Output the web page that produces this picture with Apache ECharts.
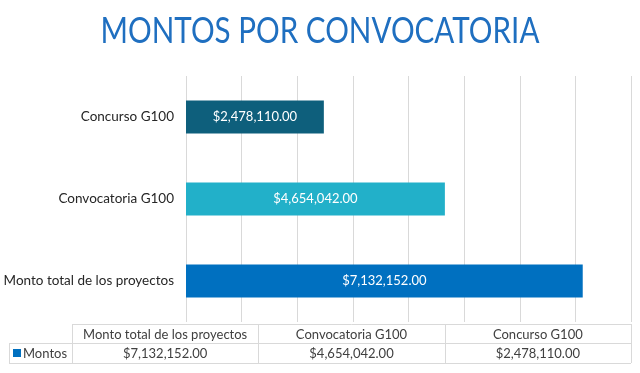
<!DOCTYPE html>
<html>
<head>
<meta charset="utf-8">
<script src="https://cdn.jsdelivr.net/npm/echarts@6/dist/echarts.min.js"></script>
<style>html,body{margin:0;padding:0;background:#fff}#c{width:640px;height:373px}</style>
</head>
<body>
<div id="c"></div>
<script>
var categories = ['Monto total de los proyectos', 'Convocatoria G100', 'Concurso G100'];
var montos = [7132152.00, 4654042.00, 2478110.00];
var barColors = ['#0070C0', '#22B0C9', '#0E5F7C'];
var seriesName = 'Montos';
var titleText = 'MONTOS POR CONVOCATORIA';
var axisMax = 8000000;
var axisInterval = 1000000;

function fmt(v) {
  return '$' + v.toLocaleString('en-US', {minimumFractionDigits: 2, maximumFractionDigits: 2});
}

var FONT = 'Lato';
var chart = echarts.init(document.getElementById('c'), null, {renderer: 'canvas'});

var g = [];
// title (condensed to match the original's narrow face)
g.push({type: 'text', x: 320, y: 31, scaleX: 0.8, originX: 0, originY: 0,
  style: {text: titleText, fill: '#1F6FC0', font: '37px ' + FONT, align: 'center', verticalAlign: 'middle'}});

// data table graphics
var tLeft = 72, tRight = 631, tTop = 324, tMid = 343, tBot = 363, rowLeft = 9;
var colW = (tRight - tLeft) / categories.length;
var lineStyle = {stroke: '#D9D9D9', lineWidth: 1};
g.push({type: 'line', shape: {x1: tLeft, y1: tTop + 0.5, x2: tRight, y2: tTop + 0.5}, style: lineStyle});
g.push({type: 'line', shape: {x1: rowLeft, y1: tMid + 0.5, x2: tRight, y2: tMid + 0.5}, style: lineStyle});
g.push({type: 'line', shape: {x1: rowLeft, y1: tBot + 0.5, x2: tRight, y2: tBot + 0.5}, style: lineStyle});
g.push({type: 'line', shape: {x1: rowLeft + 0.5, y1: tMid, x2: rowLeft + 0.5, y2: tBot}, style: lineStyle});
for (var i = 0; i <= categories.length; i++) {
  var x = Math.round(tLeft + colW * i) + 0.5;
  g.push({type: 'line', shape: {x1: x, y1: tTop, x2: x, y2: tBot}, style: lineStyle});
}
categories.forEach(function (c, i) {
  var cx = tLeft + colW * (i + 0.5);
  g.push({type: 'text', x: cx, y: (tTop + tMid) / 2 + 1, style: {text: c, fill: '#404040', font: '13px ' + FONT, align: 'center', verticalAlign: 'middle'}});
  g.push({type: 'text', x: cx, y: (tMid + tBot) / 2 + 1, style: {text: fmt(montos[i]), fill: '#404040', font: '13px ' + FONT, align: 'center', verticalAlign: 'middle'}});
});
g.push({type: 'rect', shape: {x: 13, y: 349, width: 8, height: 8}, style: {fill: barColors[0]}});
g.push({type: 'text', x: 23, y: (tMid + tBot) / 2 + 1, style: {text: seriesName, fill: '#404040', font: '13px ' + FONT, align: 'left', verticalAlign: 'middle'}});

chart.setOption({
  animation: false,
  backgroundColor: '#fff',
  grid: {left: 186, right: 9, top: 76, bottom: 51, containLabel: false},
  xAxis: {
    type: 'value', min: 0, max: axisMax, interval: axisInterval,
    axisLabel: {show: false}, axisTick: {show: false}, axisLine: {show: false},
    splitLine: {show: true, lineStyle: {color: '#D9D9D9', width: 1}}
  },
  yAxis: {
    type: 'category', data: categories,
    axisTick: {show: false}, axisLine: {show: false},
    axisLabel: {fontFamily: FONT, fontSize: 13.5, color: '#262626', margin: 12}
  },
  series: [{
    name: seriesName, type: 'bar', barWidth: '40%',
    data: montos.map(function (v, i) { return {value: v, itemStyle: {color: barColors[i]}}; }),
    label: {show: true, position: 'inside', color: '#fff', fontFamily: FONT, fontSize: 13, formatter: function (p) { return fmt(p.value); }}
  }],
  graphic: g
});
</script>
</body>
</html>
